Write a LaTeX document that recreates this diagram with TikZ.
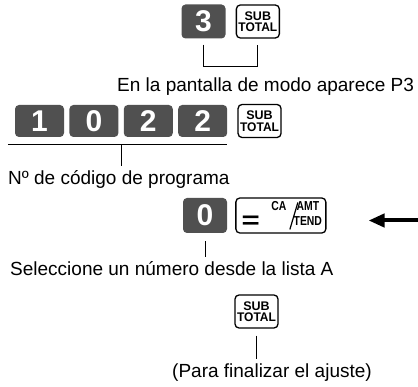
\documentclass[tikz,border=0pt]{standalone}
\usepackage{fontspec}
\setmainfont{Liberation Sans}
\usepackage{graphicx}
\usetikzlibrary{arrows.meta,positioning,calc}
\definecolor{keygray}{RGB}{80,80,80}
\newcommand{\cnd}[1]{\scalebox{0.8}[1]{#1}}

\begin{document}
\begin{tikzpicture}[
    x=1pt, y=-1pt,
    numkey/.style={rectangle, fill=keygray, rounded corners=4pt, minimum width=44pt,
                   minimum height=34pt, inner sep=0pt, text=white,
                   font=\fontsize{30}{30}\selectfont\bfseries},
    fnkey/.style={rectangle, draw, line width=1.3pt, fill=white, rounded corners=4pt,
                  minimum width=43pt, minimum height=33pt, inner sep=0pt, align=center,
                  font=\fontsize{12.5}{11.5}\selectfont\bfseries},
    keylbl/.style={inner sep=0pt, font=\fontsize{13}{13}\selectfont\bfseries},
    note/.style={anchor=base west, inner xsep=0pt, inner ysep=5pt,
                 font=\fontsize{19}{22}\selectfont},
    leader/.style={line width=0.8pt},
    pointer/.style={-{Triangle[length=16pt,width=13pt]}, line width=4pt}
]
\useasboundingbox (0,0) rectangle (418,387);

%% ---- Paso 1: 3 SUBTOTAL ----
\node[numkey]                  (k3)   at (203.5,21.5) {3};
\node[fnkey, right=10pt of k3] (sub1)                 {SUB\\\scalebox{0.96}[1]{TOTAL}};
\node[note]                    (t1)   at (117,92)     {En la pantalla de modo aparece P3};

\draw[leader] ([yshift=-6pt]k3.south) -- ++(0,22) -| ([yshift=-6pt]sub1.south);

%% ---- Paso 2: 1022 SUBTOTAL ----
\node[numkey, minimum width=49pt, minimum height=32pt]                  (k1)  at (39.5,121) {1};
\node[numkey, minimum width=49pt, minimum height=32pt, right=5pt of k1] (k0)                {0};
\node[numkey, minimum width=49pt, minimum height=32pt, right=5pt of k0] (k2a)               {2};
\node[numkey, minimum width=49pt, minimum height=32pt, right=5pt of k2a] (k2b)              {2};
\node[fnkey, right=10pt of k2b] (sub2) {SUB\\\scalebox{0.96}[1]{TOTAL}};
\node[note]                     (t2)   at (8,185) {Nº de código de programa};

\draw[leader] ([xshift=-7pt,yshift=-7pt]k1.south west) -- ([yshift=-7pt]k2b.south east);
\coordinate (codetick) at ($(k0.south east)!.5!(k2a.south west)+(0,7)$);
\draw[leader] (codetick) -- (codetick |- t2.north);

%% ---- Paso 3: 0 CA/AMT TEND ----
\node[numkey, minimum height=35pt]                                    (kz)     at (205,215.5) {0};
\node[fnkey, minimum width=90pt, minimum height=35pt, right=8pt of kz] (catend)                {};
\node[keylbl, font=\fontsize{24}{24}\selectfont\bfseries] (eqmark) at ([xshift=-30pt,yshift=-7pt]catend.center) {\scalebox{1.3}[1]{=}};
\node[keylbl] (calbl)  at ([xshift=-2pt,yshift=9pt]catend.center)  {\cnd{CA}};
\node[keylbl] (amtlbl) at ([xshift=27pt,yshift=9pt]catend.center)  {\cnd{AMT}};
\node[keylbl] (tendlbl) at ([xshift=27pt,yshift=-6pt]catend.center) {\cnd{TEND}};
\draw[line width=1.2pt] ([xshift=9pt,yshift=-14pt]catend.center) -- ([xshift=17pt,yshift=13pt]catend.center);
\node[note]   (t3)     at (10,276) {Seleccione un número desde la lista A};

\draw[leader] ([yshift=-8pt]kz.south) -- (kz.south |- t3.north);
\draw[pointer] ([xshift=93pt,yshift=-5pt]catend.east) -- ([xshift=42pt,yshift=-5pt]catend.east);

%% ---- Paso 4: SUBTOTAL ----
\node[fnkey] (sub3) at (256.5,311.5) {SUB\\\scalebox{0.96}[1]{TOTAL}};
\node[note]  (t4)   at (172,378)     {(Para finalizar el ajuste)};

\draw[leader] ([yshift=-7pt]sub3.south) -- (sub3.south |- t4.north);

\end{tikzpicture}
\end{document}
